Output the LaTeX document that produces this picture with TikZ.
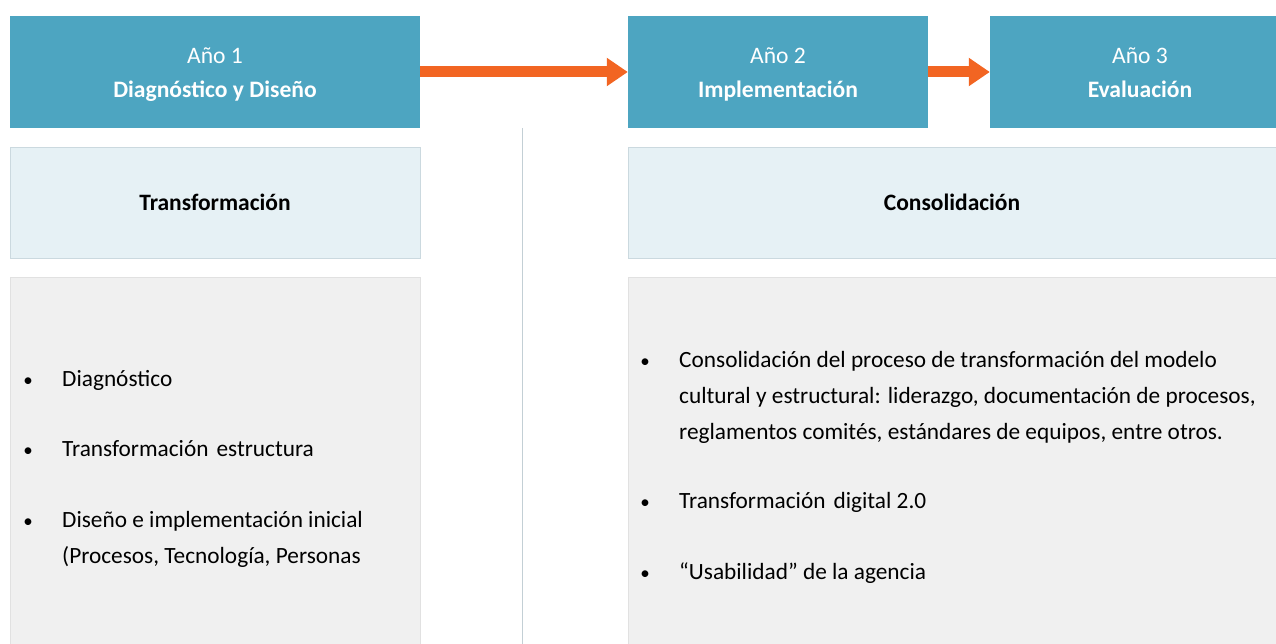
\documentclass[tikz,border=0pt]{standalone}
\usepackage{fontspec}
\setmainfont{Carlito}
\usetikzlibrary{arrows.meta}

\definecolor{yearblue}{HTML}{4DA5C1}
\definecolor{phaseblue}{HTML}{E6F1F5}
\definecolor{phaseline}{HTML}{CBD9DF}
\definecolor{itemgray}{HTML}{F0F0F0}
\definecolor{itemline}{HTML}{E1E1E1}
\definecolor{flowred}{HTML}{F26522}
\definecolor{sepline}{HTML}{C3CFD5}

\begin{document}
\begin{tikzpicture}[x=1pt, y=-1pt,
                    year/.style={fill=yearblue, text=white, align=center,
                                 inner sep=0pt, minimum height=112pt,
                                 text height=58pt, text depth=6pt,
                                 font=\fontsize{23.6}{34}\selectfont},
                    phase/.style={fill=phaseblue, draw=phaseline, line width=0.8pt,
                                  inner sep=0pt, minimum height=111pt,
                                  font=\fontsize{23.5}{30}\selectfont\bfseries},
                    items/.style={fill=itemgray, draw=itemline, line width=0.8pt,
                                  inner sep=0pt},
                    bullet/.style={anchor=base, inner sep=0pt,
                                   font=\fontsize{19}{36}\selectfont},
                    entry/.style={anchor=base west, inner sep=0pt,
                                  font=\fontsize{23.3}{36}\selectfont},
                    flow/.style={draw=flowred, line width=11pt,
                                 -{Triangle[width=27pt, length=21pt]}}]

  \useasboundingbox (0,0) rectangle (1276,644);

  % Year headers
  \node [year, minimum width=410pt] (year 1) at (215,72)
        {Año 1\\\textbf{Diagnóstico y Diseño}};
  \node [year, minimum width=300pt] (year 2) at (778,72)
        {Año 2\\\textbf{Implementación}};
  \node [year, minimum width=300pt] (year 3) at (1140,72)
        {Año 3\\\textbf{Evaluación}};

  % Arrows between years
  \draw [flow] (year 1.east) -- (year 2.west);
  \draw [flow] (year 2.east) -- (year 3.west);

  % Phase titles
  \node [phase, minimum width=410pt] (phase left) at (215,202.5) {Transformación};
  \node [phase, minimum width=648pt] (phase right) at (952,202.5) {Consolidación};

  % Item panels
  \node [items, minimum width=410pt, minimum height=370pt] (items left) at (215,462) {};
  \node [items, minimum width=648pt, minimum height=370pt] (items right) at (952,462) {};

  % Separator line
  \coordinate (sep top) at (522,128);
  \coordinate (sep bottom) at (522,644);
  \draw [sepline, line width=1pt] (sep top) -- (sep bottom);

  % Left items
  \foreach \n/\y/\txt in {1/386/{Diagnóstico},
                          2/456/{Transformación\hspace{8pt}estructura},
                          3/527/{Diseño e implementación inicial\\(Procesos,\ Tecnología,\ Personas}} {
    \node [bullet] (left bullet \n) at (28,\y) {\textbullet};
    \node [entry] (left item \n) at (62,\y)
          {\begin{tabular}[t]{@{}l@{}}\txt\end{tabular}};
  }

  % Right items
  \foreach \n/\y/\txt in {1/367/{Consolidación del proceso de transformación del modelo\\
                                 cultural y estructural: liderazgo, documentación de procesos,\\
                                 reglamentos comités, estándares de equipos, entre otros.},
                          2/508/{Transformación\hspace{8pt}digital 2.0},
                          3/579/{“Usabilidad”\ de la agencia}} {
    \node [bullet] (right bullet \n) at (645,\y) {\textbullet};
    \node [entry] (right item \n) at (679,\y)
          {\begin{tabular}[t]{@{}l@{}}\txt\end{tabular}};
  }

\end{tikzpicture}
\end{document}
